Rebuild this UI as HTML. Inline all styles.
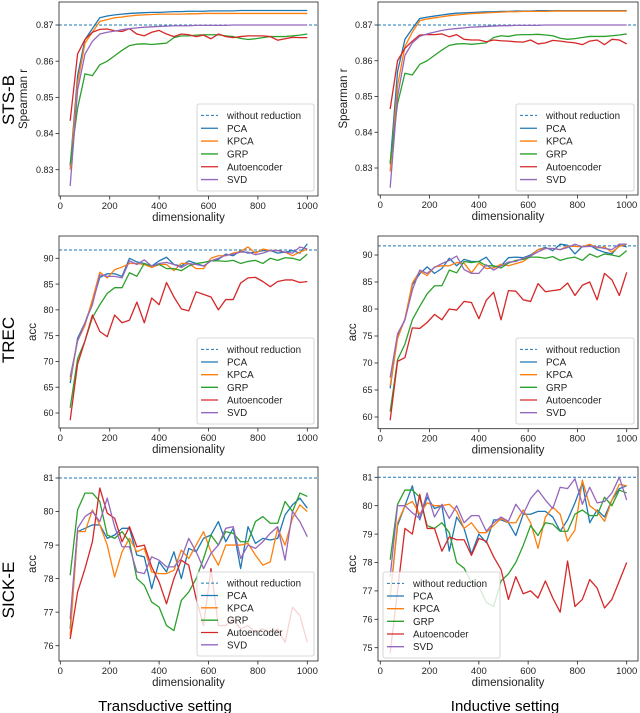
<!DOCTYPE html>
<html><head><meta charset="utf-8"><style>
html,body{margin:0;padding:0;background:#fff;}
svg{display:block;font-family:"Liberation Sans","DejaVu Sans",sans-serif;}
</style></head><body>
<svg id="fig" width="640" height="713" viewBox="0 0 640 713" xmlns="http://www.w3.org/2000/svg">
<text x="14" y="100" font-size="17" text-anchor="middle" transform="rotate(-90 14 100)">STS-B</text>
<text x="14" y="340" font-size="17" text-anchor="middle" transform="rotate(-90 14 340)">TREC</text>
<text x="14" y="590" font-size="17" text-anchor="middle" transform="rotate(-90 14 590)">SICK-E</text>
<text x="165" y="711" font-size="15" text-anchor="middle">Transductive setting</text>
<text x="505" y="711" font-size="15" text-anchor="middle">Inductive setting</text>
</svg>
<script>
const dims = [40,70,100,130,160,190,220,250,280,310,340,370,400,430,460,490,520,550,580,610,640,670,700,730,760,790,820,850,880,910,940,970,1000];
const xTicks = [0,200,400,600,800,1000];
const seriesNames = ["PCA","KPCA","GRP","Autoencoder","SVD"];
const seriesColors = ["#1f77b4","#ff7f0e","#2ca02c","#d62728","#9467bd"];

const stsYTicks = [0.83,0.84,0.85,0.86,0.87];
const trecYTicks = [60,65,70,75,80,85,90];
const sickLeftYTicks = [76,77,78,79,80,81];
const sickRightYTicks = [75,76,77,78,79,80,81];

const stsBaseline = 0.870;
const trecLeftBaseline = 91.6;
const trecRightBaseline = 91.7;
const sickBaseline = 81.0;

const stsLeftPCA = [0.831,0.856,0.866,0.869,0.872,0.8725,0.8728,0.873,0.8732,0.8733,0.8734,0.8735,0.8735,0.8736,0.8737,0.8737,0.8738,0.8738,0.8738,0.8739,0.8739,0.8739,0.8739,0.874,0.874,0.874,0.874,0.874,0.874,0.874,0.874,0.874,0.874];
const stsLeftKPCA = [0.830,0.854,0.865,0.868,0.871,0.8715,0.872,0.8722,0.8725,0.8727,0.8728,0.8729,0.873,0.873,0.873,0.873,0.8731,0.8731,0.8732,0.8732,0.8732,0.8732,0.8732,0.8732,0.8732,0.8732,0.8732,0.8732,0.8732,0.8732,0.8732,0.8732,0.8732];
const stsLeftGRP = [0.8315,0.847,0.8565,0.856,0.859,0.860,0.8615,0.863,0.8643,0.8647,0.8648,0.8646,0.8648,0.865,0.8665,0.867,0.867,0.8672,0.8673,0.8673,0.8673,0.867,0.8668,0.8663,0.866,0.8662,0.8665,0.8668,0.8668,0.8668,0.867,0.8672,0.8675];
const stsLeftAE = [0.8435,0.862,0.866,0.868,0.8688,0.8689,0.8684,0.8682,0.869,0.8675,0.867,0.868,0.8685,0.8675,0.8668,0.8675,0.8673,0.8668,0.8672,0.8662,0.8675,0.8668,0.8665,0.8668,0.867,0.867,0.867,0.8668,0.8658,0.8662,0.8666,0.8665,0.8665];
const stsLeftSVD = [0.8255,0.852,0.862,0.8655,0.8675,0.868,0.8683,0.8687,0.869,0.8692,0.8694,0.8695,0.8696,0.8697,0.8698,0.8698,0.8698,0.8699,0.8699,0.8699,0.8699,0.8699,0.870,0.870,0.870,0.870,0.870,0.870,0.870,0.870,0.870,0.870,0.870];

const stsRightPCA = [0.831,0.857,0.866,0.869,0.8718,0.8722,0.8725,0.8728,0.8731,0.8733,0.8734,0.8735,0.8736,0.8737,0.8737,0.8738,0.8738,0.8739,0.8739,0.8739,0.874,0.874,0.874,0.874,0.874,0.874,0.874,0.874,0.874,0.874,0.874,0.874,0.874];
const stsRightKPCA = [0.829,0.853,0.864,0.868,0.8712,0.8717,0.872,0.8723,0.8726,0.8728,0.873,0.8732,0.8733,0.8734,0.8735,0.8736,0.8737,0.8737,0.8738,0.8738,0.8738,0.8738,0.8739,0.8739,0.8739,0.8739,0.8739,0.8739,0.8739,0.8739,0.8739,0.8739,0.8739];
const stsRightGRP = [0.8315,0.848,0.8565,0.856,0.859,0.860,0.8615,0.863,0.8643,0.8647,0.8648,0.8646,0.8648,0.865,0.8665,0.867,0.8668,0.8672,0.8673,0.8673,0.8674,0.8672,0.867,0.8663,0.866,0.8662,0.8665,0.8668,0.8668,0.8668,0.867,0.8672,0.8675];
const stsRightAE = [0.8465,0.860,0.8635,0.8655,0.8672,0.8673,0.8673,0.8675,0.8667,0.8673,0.866,0.8658,0.8658,0.8653,0.8658,0.8656,0.8655,0.8653,0.8652,0.8658,0.8647,0.865,0.8657,0.8655,0.8652,0.865,0.8645,0.8655,0.8658,0.8645,0.866,0.8658,0.8647];
const stsRightSVD = [0.8245,0.850,0.8615,0.865,0.8668,0.8675,0.868,0.8685,0.8688,0.869,0.8692,0.8694,0.8695,0.8696,0.8697,0.8698,0.8698,0.8699,0.8699,0.8699,0.8699,0.870,0.870,0.870,0.870,0.870,0.870,0.870,0.870,0.870,0.870,0.870,0.870];

const trecLeftPCA = [65.8,74.5,77.5,81.5,86.3,87,87,86.5,90,89.3,89,88.5,89.5,90.2,88.8,88.5,89.5,89,88.5,89.5,89.8,90.8,90.5,91.5,91,91.2,91.5,91.5,91,91.2,91.5,91,92.8];
const trecLeftKPCA = [66.5,74,77,82,87.3,86.2,87.8,88.3,89,89,88.8,88.2,88.8,88.8,87.6,89,89,88,88,90,90.5,90.5,91,91.3,92.2,91,91.8,91.5,91.5,91.2,90.5,91.2,91.8];
const trecLeftGRP = [61,70.5,74,78.5,81,83.2,84.3,84.3,87.2,86.5,89,88.5,88.8,88,88,87.6,88.5,89,89.2,89.5,89.5,89.4,89.6,89,89.4,89.6,89,90,89.6,90.1,90,89.6,90.8];
const trecLeftAE = [58.6,69.5,74,79,75.8,74.8,79,77.5,78,81.5,77.5,82.3,81,85.3,82.5,80.2,79.8,83.5,83,82.5,80,82,82,85.2,86.2,86.3,85.5,84.5,85.5,85.8,85.8,85.3,85.5];
const trecLeftSVD = [67,74,77.5,81,86.8,86.5,86.5,86.2,89.5,88.8,89.7,88.5,89,89.2,88.8,88.2,89,88.8,88.5,89.5,90,90.6,90.8,91.2,91.2,90.7,91,91.5,91.5,91.2,91,92.2,91.8];

const trecRightPCA = [65.3,75,78,84.5,86.5,87.8,86.6,87.5,89.4,88,89.2,88.8,88.8,89.6,87.8,88,89.5,89.6,89.5,90,91,91.4,90.8,92,91.8,90.2,91.6,91.8,91,90.5,90.2,91.8,91.5];
const trecRightKPCA = [65.8,74.5,78.2,84.8,87,86.2,87.8,88,88,88.6,88.5,86.7,88.5,87.5,87.6,88.3,88,88.4,88.8,89.8,91,91.2,91.2,91,91.6,91.6,91.5,92,91.3,91.5,90.5,91.6,92];
const trecRightGRP = [61,70.6,73.5,78,80.5,82.8,84.3,84.3,87.2,86.7,88.8,88.6,88.8,88,88,87.6,88.5,89,89.2,89.6,89.6,89.4,89.7,89,89.4,89.6,89,90.2,89.6,90.2,90,89.7,90.8];
const trecRightAE = [59.4,70.3,71,76.5,76.4,77.5,79,78,80,79.8,81.4,81.2,78.2,81.6,83.1,78,83.4,83.3,81.7,81.4,84.7,83.2,83.4,83.6,84.8,82.5,84.4,85,81.7,86.6,85.4,82.5,86.8];
const trecRightSVD = [67.3,75.4,78,83.5,87.2,86.6,87.7,88.4,89,89.8,87.3,86.6,86.6,88.2,87.2,88,88.7,88.8,89.4,89.8,90.6,91.2,91.2,91,91.4,92,91.5,91.6,91.5,91.2,91,92,92];

const sickLeftPCA = [76.5,79.4,79.5,79.6,79.6,79.2,79.3,79.5,79.5,78.7,78.65,77.7,78.5,78.2,78.8,78,78.9,78.8,79.2,79.3,79.7,79.1,79.5,78.3,79.55,79.05,79.2,79.15,79.2,79.9,80.2,80.4,80.1];
const sickLeftKPCA = [76.3,79.4,79.4,80.05,79.6,79,78.05,78.8,79.2,78.8,78.9,78.2,78.15,78.15,78.25,78.85,78.6,79,79.4,78.8,78.4,79,79,79,79.05,78.7,78.4,78.5,79.5,79,79.8,80.2,80];
const sickLeftGRP = [78.1,80.05,80.55,80.55,80.3,79.3,79.2,79.4,79.1,78,77.8,77.3,77.15,76.6,76.45,77.35,77.6,78,78.6,79.3,79,79.4,79.35,79.1,79.1,79.7,79.85,79.65,79.65,80.3,80,80.55,80.45];
const sickLeftAE = [76.2,77.6,78.3,79.1,80.7,79.95,79.8,79.1,79.55,78.95,79,78.35,77.9,77.25,78,78.55,78.4,77.4,76.6,78.3,76.6,76.6,76.8,76.5,76.6,76.4,76.5,76.4,76.5,76.1,77.15,76.9,76.1];
const sickLeftSVD = [76.8,79.5,79.85,80,79.7,80.4,79.55,78.95,78.95,78.2,78.15,78.65,78.55,78.35,78.35,78.6,79.2,78.8,78.3,78.75,79,79.5,79.55,78.6,79,78.9,79.1,79.35,79.55,78.55,80,79.7,79.25];

const sickRightPCA = [76.8,79.3,80,80.7,79.5,80.3,79.9,80,78.4,79.6,79.2,78.3,79,78.7,79.5,79.5,79.4,78.95,79.7,79.7,79.8,79.8,79.6,79.1,79.5,80.1,80.8,79.4,79.85,79.6,80.2,80.6,80.7];
const sickRightKPCA = [76.7,79.4,80,80.15,79.7,80.1,80,80,80.05,79.8,79.2,79.4,79.05,79.05,79.3,79.55,79.4,79.4,79.85,79.4,78.5,79.6,79.95,79.7,78.75,79.15,80.9,80,79.8,79.45,80.2,80.75,80.7];
const sickRightGRP = [78.1,80.05,80.55,80.55,80.3,79.3,79.2,79.4,79.05,78,77.8,77.3,77.15,76.6,76.45,77.35,77.6,78,78.6,79.3,78.95,79.4,79.35,79.1,79.1,79.7,79.85,79.65,79.65,80.3,80,80.55,80.45];
const sickRightAE = [74.8,77,79.2,79,80.4,79.2,79.2,78.4,78.9,78.8,78.8,78.25,78.85,78.75,78.2,77.75,76.7,77.5,76.9,77,76.75,77.35,76.75,76.25,78.05,76.45,76.7,77.4,77.1,76.4,76.7,77.35,78];
const sickRightSVD = [77.5,80,80,79.75,79.55,80.45,79.6,80.05,79.55,80,79.4,79.65,79.65,79.1,79.4,79.6,79.45,80.05,79.7,80.25,80.55,80.2,79.9,80.65,80.6,80.95,80.05,80.65,80.1,80.15,80.45,81,80.2];

const NS = "http://www.w3.org/2000/svg";
const fig = document.getElementById("fig");
function mk(tag, attrs, parent){
  const e = document.createElementNS(NS, tag);
  for (const k in attrs) e.setAttribute(k, attrs[k]);
  (parent||fig).appendChild(e);
  return e;
}

const panels = [
 {id:"sts-left", box:[59,2,318,196], xm:[60.3,307.3], ym:[0.87,25,0.83,169.7], ticks:stsYTicks, dec:2, ylabel:"Spearman r", ylx:27, base:stsBaseline, series:[stsLeftPCA,stsLeftKPCA,stsLeftGRP,stsLeftAE,stsLeftSVD], leg:[197,104,314,191]},
 {id:"sts-right", box:[378,2,638,195], xm:[380.3,626.7], ym:[0.87,25,0.83,168], ticks:stsYTicks, dec:2, ylabel:"Spearman r", ylx:347, base:stsBaseline, series:[stsRightPCA,stsRightKPCA,stsRightGRP,stsRightAE,stsRightSVD], leg:[516,104,634,191]},
 {id:"trec-left", box:[59,236,318,428], xm:[60.3,307.3], ym:[90,258.3,60,413], ticks:trecYTicks, dec:0, ylabel:"acc", ylx:36, base:trecLeftBaseline, series:[trecLeftPCA,trecLeftKPCA,trecLeftGRP,trecLeftAE,trecLeftSVD], leg:[197,338,314,424]},
 {id:"trec-right", box:[378,236,638,428.7], xm:[380.3,626.7], ym:[90,255,60,417], ticks:trecYTicks, dec:0, ylabel:"acc", ylx:356, base:trecRightBaseline, series:[trecRightPCA,trecRightKPCA,trecRightGRP,trecRightAE,trecRightSVD], leg:[516,338,634,424]},
 {id:"sick-left", box:[59,467,318,661], xm:[60.3,307.3], ym:[81,478,76,645.7], ticks:sickLeftYTicks, dec:0, ylabel:"acc", ylx:36, base:sickBaseline, series:[sickLeftPCA,sickLeftKPCA,sickLeftGRP,sickLeftAE,sickLeftSVD], leg:[197,572,314,656]},
 {id:"sick-right", box:[378,467,638,661], xm:[380.3,626.7], ym:[81,477.3,75,647.7], ticks:sickRightYTicks, dec:0, ylabel:"acc", ylx:356, base:sickBaseline, series:[sickRightPCA,sickRightKPCA,sickRightGRP,sickRightAE,sickRightSVD], leg:[383,572,500,658]}
];

panels.forEach((p, pi) => {
  const [bx0,by0,bx1,by1] = p.box;
  const xs = v => p.xm[0] + (p.xm[1]-p.xm[0]) * v / 1000;
  const ys = v => p.ym[1] + (p.ym[3]-p.ym[1]) * (v - p.ym[0]) / (p.ym[2]-p.ym[0]);
  const g = mk("g", {});
  
  
  const cp = mk("clipPath", {id:"clip"+pi}, g);
  mk("rect", {x:bx0, y:by0, width:bx1-bx0, height:by1-by0}, cp);

  // ticks
  xTicks.forEach(t => {
    const x = xs(t);
    mk("line", {x1:x, x2:x, y1:by1, y2:by1+3.5, stroke:"#222", "stroke-width":0.8}, g);
    const tl = mk("text", {x:x, y:by1+13, "font-size":9.5, "text-anchor":"middle", fill:"#222"}, g);
    tl.textContent = t;
    
    
  });
  p.ticks.forEach(t => {
    const y = ys(t);
    mk("line", {x1:bx0-3.5, x2:bx0, y1:y, y2:y, stroke:"#222", "stroke-width":0.8}, g);
    const tl = mk("text", {x:bx0-5.5, y:y+3.2, "font-size":9, "text-anchor":"end", fill:"#222"}, g);
    tl.textContent = t.toFixed(p.dec);
    
    
  });
  const xl = mk("text", {x:(bx0+bx1)/2, y:by1+25, "font-size":11.5, "text-anchor":"middle", fill:"#222"}, g);
  xl.textContent = "dimensionality";
  
  
  const ycy = (by0+by1)/2;
  const yl = mk("text", {x:p.ylx, y:ycy, "font-size":11.5, "text-anchor":"middle", fill:"#222", transform:`rotate(-90 ${p.ylx} ${ycy})`}, g);
  yl.textContent = p.ylabel;
  
  

  const cg = mk("g", {"clip-path":`url(#clip${pi})`}, g);
  const by = ys(p.base);
  const bl = mk("line", {x1:bx0, x2:bx1, y1:by, y2:by, stroke:"#1f77b4", "stroke-width":1, "stroke-dasharray":"3,2"}, cg);
  
  
  p.series.forEach((arr, si) => {
    const pts = arr.map((v,i) => xs(dims[i]).toFixed(2)+","+ys(v).toFixed(2)).join(" ");
    const pl = mk("polyline", {points:pts, fill:"none", stroke:seriesColors[si], "stroke-width":1.3, "stroke-linejoin":"round"}, cg);
    
    
  });

  mk("rect", {x:bx0, y:by0, width:bx1-bx0, height:by1-by0, fill:"none", stroke:"#222", "stroke-width":0.8}, g);

  // legend
  const [lx0,ly0,lx1,ly1] = p.leg;
  const lg = mk("g", {}, g);
  
  
  mk("rect", {x:lx0, y:ly0, width:lx1-lx0, height:ly1-ly0, rx:2, fill:"#fff", "fill-opacity":0.8, stroke:"#ccc", "stroke-width":0.8}, lg);
  const step = (ly1-ly0-10)/6;
  const labels = ["without reduction"].concat(seriesNames);
  labels.forEach((lab, k) => {
    const yy = ly0 + 5 + step*(k+0.5);
    if (k===0) mk("line", {x1:lx0+4, x2:lx0+21, y1:yy, y2:yy, stroke:"#1f77b4", "stroke-width":1, "stroke-dasharray":"3,2"}, lg);
    else mk("line", {x1:lx0+4, x2:lx0+21, y1:yy, y2:yy, stroke:seriesColors[k-1], "stroke-width":1.3}, lg);
    const t = mk("text", {x:lx0+30, y:yy+3.5, "font-size":9.8, fill:"#222"}, lg);
    t.textContent = lab;
    
    
  });
});
</script>
</body></html>
